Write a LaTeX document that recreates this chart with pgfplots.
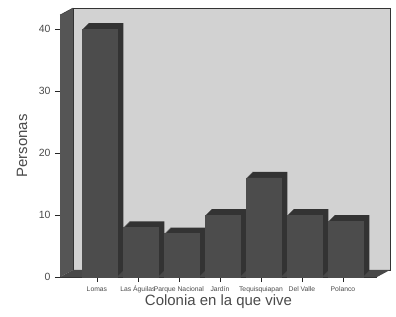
\documentclass[border=0pt]{standalone}
\usepackage{pgfplots}
\pgfplotsset{compat=1.18}
\usepackage{pgfplotstable}
\usepackage{fontspec}
\setmainfont{Liberation Sans}
\usetikzlibrary{calc}
\definecolor{wall}{HTML}{D2D2D2}
\definecolor{lwall}{HTML}{555555}
\definecolor{floorc}{HTML}{484848}
\definecolor{barfront}{HTML}{4C4C4C}
\definecolor{barside}{HTML}{333333}
\definecolor{txt}{HTML}{4A4A4A}

\pgfplotstableread{
x y
0 40
1 8
2 7
3 10
4 16
5 10
6 9
}\datatable

\begin{document}
\begin{tikzpicture}
\useasboundingbox (0,0) rectangle (396bp,317bp);
\begin{axis}[
  ybar, bar width=35bp,
  at={(60bp,40bp)}, anchor=south west,
  scale only axis, width=317bp, height=262bp,
  xmin=-0.9, xmax=6.83, ymin=0, ymax=42.26,
  clip=false,
  axis x line*=bottom, axis y line*=left,
  axis line style={-, draw=black!80},
  xtick align=outside, ytick align=outside,
  xtick pos=lower, ytick pos=left,
  major tick length=5bp,
  xtick={0,...,6},
  xticklabels={Lomas, Las Águilas, Parque Nacional, Jardín, Tequisquiapan, Del Valle, Polanco},
  ytick={0,10,20,30,40},
  tick style={draw=black!85, line width=0.6pt},
  /pgf/number format/assume math mode=true,
  x tick label style={font=\fontsize{6.8}{8}\selectfont, text=txt, inner sep=1.5bp, text height=5bp, text depth=1.5bp, yshift=-3bp},
  y tick label style={font=\fontsize{10.5}{12}\selectfont, text=txt, xshift=-1bp},
  xlabel={Colonia en la que vive},
  ylabel={Personas},
  label style={font=\fontsize{15}{17}\selectfont, text=txt},
  xlabel style={at={(axis description cs:0.5,0)}, anchor=center, yshift=-25bp},
  ylabel style={at={([xshift=-38bp]axis description cs:0,0.5)}, anchor=center},
]
% walls (decoration of the 3D frame)
\fill[lwall] (axis cs:-0.9,0) -- (axis cs:-0.9,42.26) -- ([shift={(13bp,7bp)}]axis cs:-0.9,42.26) -- ([shift={(13bp,7bp)}]axis cs:-0.9,0) -- cycle;
\filldraw[fill=wall, draw=black!80] ([shift={(13bp,7bp)}]axis cs:-0.9,0) rectangle ([shift={(13bp,7bp)}]axis cs:6.83,42.26);
\fill[floorc] (axis cs:-0.9,0) -- (axis cs:6.83,0) -- ([shift={(13bp,7bp)}]axis cs:6.83,0) -- ([shift={(13bp,7bp)}]axis cs:-0.9,0) -- cycle;
\draw[black!80] (axis cs:-0.9,42.26) -- ([shift={(13bp,7bp)}]axis cs:-0.9,42.26);
% category tick marks below the floor edge
\pgfplotsinvokeforeach{0,...,6}{
  \draw[black!85, line width=0.6pt] (axis cs:#1,0) -- ([yshift=-5bp]axis cs:#1,0);
}
% bar depth
\pgfplotsinvokeforeach{1,...,6}{
  \addplot[bar shift=3bp, fill=barside, draw=none, xshift=#1bp, yshift=#1bp] table[x=x,y=y]{\datatable};
}
% bar fronts
\addplot[bar shift=3bp, fill=barfront, draw=black!70, line width=0.4pt] table[x=x,y=y]{\datatable};
\end{axis}
\end{tikzpicture}
\end{document}
